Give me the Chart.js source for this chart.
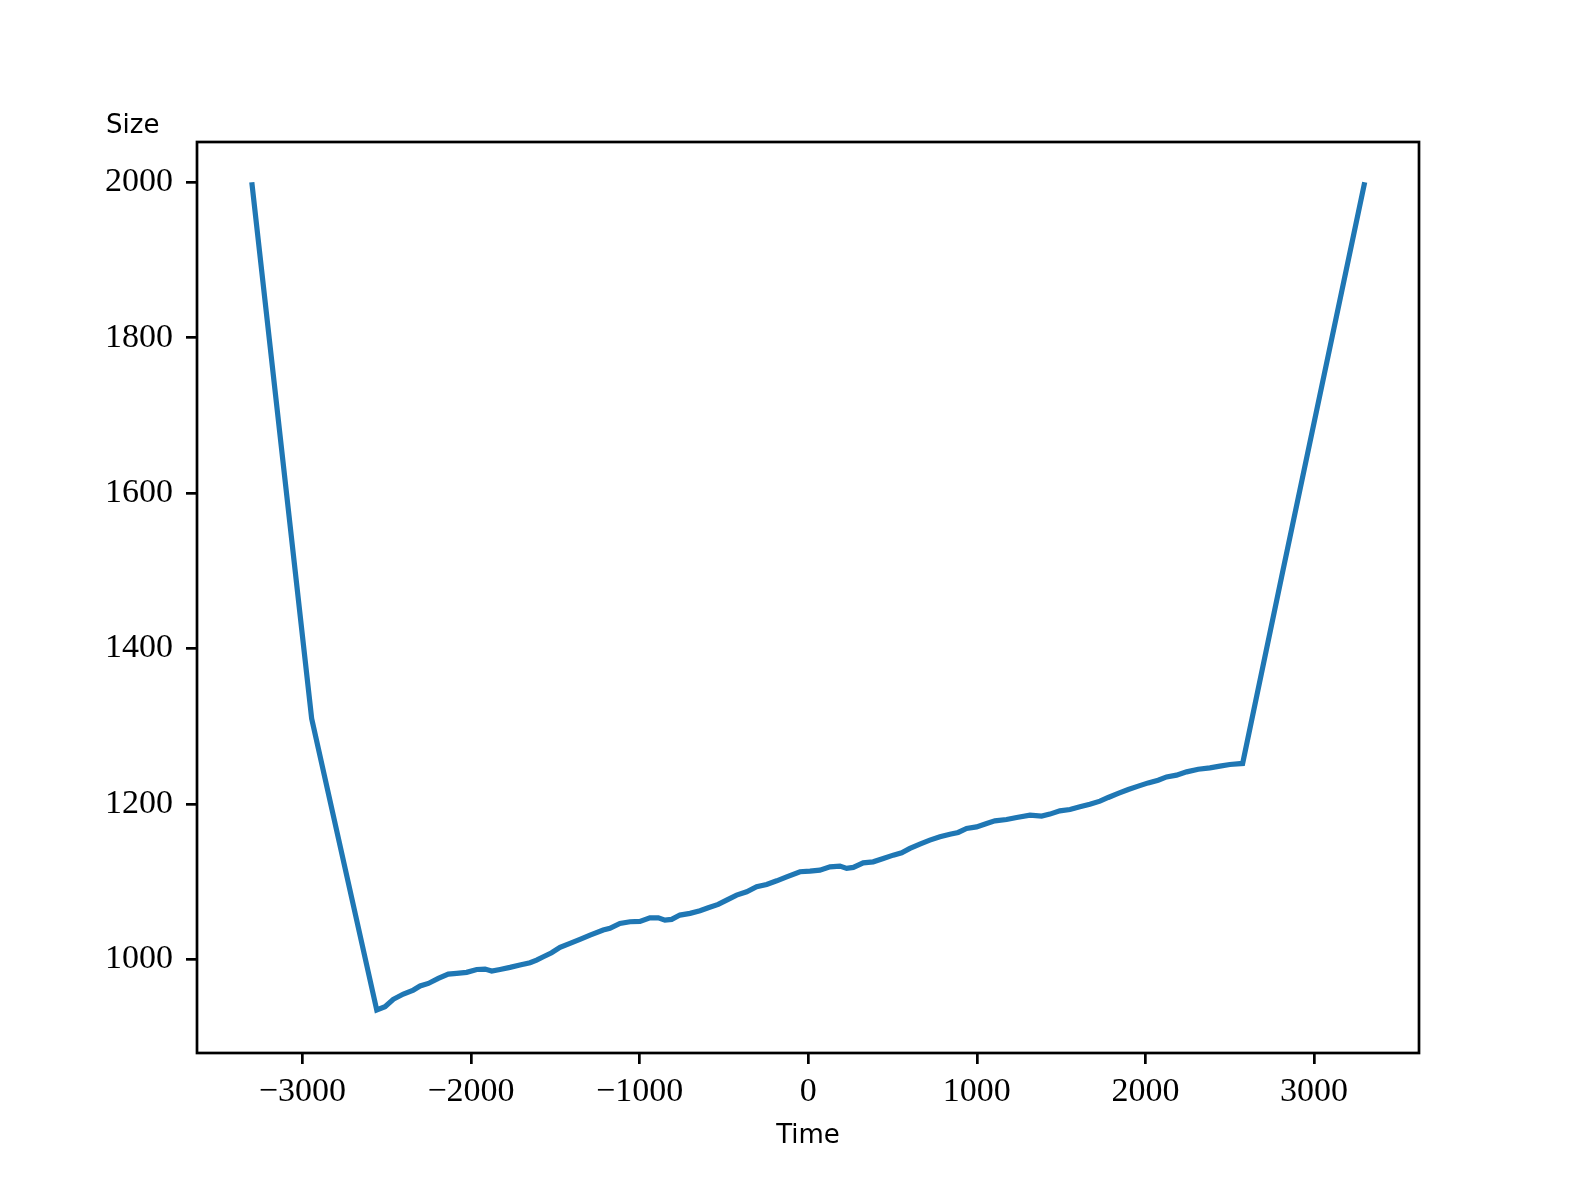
<!DOCTYPE html>
<html>
<head>
<meta charset="utf-8">
<script src="https://cdn.jsdelivr.net/npm/chart.js@4/dist/chart.umd.min.js"></script>
<style>
  html, body { margin: 0; padding: 0; background: #fff; }
  #wrap { width: 1577px; height: 1183px; }
</style>
</head>
<body>
<div id="wrap"><canvas id="sizeChart" width="1577" height="1183"></canvas></div>
<script>
// values
const timeValues = [
    -3300, -2945, -2559, -2510, -2461, -2401, -2342, -2302, -2253, -2194, -2135, -2085,
    -2026, -1966, -1917, -1877, -1828, -1769, -1710, -1650, -1611, -1571, -1522, -1472,
    -1413, -1354, -1294, -1216, -1176, -1117, -1057, -998, -939, -889, -850, -810,
    -761, -701, -642, -593, -534, -484, -425, -365, -306, -247, -187, -128,
    -49, 10, 69, 129, 188, 228, 267, 326, 385, 445, 504, 554,
    603, 662, 721, 781, 840, 889, 939, 998, 1058, 1107, 1176, 1236,
    1315, 1384, 1433, 1492, 1552, 1611, 1670, 1730, 1779, 1838, 1898, 1957,
    2016, 2075, 2125, 2184, 2244, 2313, 2382, 2441, 2500, 2576, 2807, 3300
];
const sizeValues = [
    2000, 1310, 934.8, 939, 948.6, 955.4, 960.5, 965.7, 969, 975.6, 981, 982,
    983.3, 987, 987.5, 985, 987, 989.7, 992.7, 995.6, 999, 1003.3, 1008.5, 1015.4,
    1020.6, 1025.7, 1031.2, 1037.7, 1039.9, 1046.3, 1048.4, 1048.9, 1053.5, 1053.5, 1050.5, 1051.4,
    1057, 1059.2, 1062.5, 1066.4, 1070.7, 1076.3, 1082.7, 1087, 1093.4, 1096.4, 1101.1, 1106.2,
    1112.7, 1113.6, 1114.8, 1119, 1120, 1117, 1118.3, 1124.2, 1125.5, 1129.9, 1134.1, 1137.1,
    1142.7, 1148.3, 1153.4, 1157.7, 1161.1, 1163.3, 1168.5, 1170.5, 1174.9, 1178.2, 1180, 1182.6,
    1185.6, 1184.3, 1186.9, 1191.1, 1192.9, 1196.3, 1199.7, 1203.6, 1208.3, 1213.5, 1218.6, 1222.9,
    1227.1, 1230.6, 1234.8, 1237, 1241.3, 1244.7, 1246.4, 1248.6, 1250.8, 1252.1, 1492, 2000
];
const xTicks = [-3000, -2000, -1000, 0, 1000, 2000, 3000];
const yTicks = [1000, 1200, 1400, 1600, 1800, 2000];

const points = timeValues.map((t, i) => ({ x: t, y: sizeValues[i] }));

const tickFont = { family: '"Liberation Serif", "Times New Roman", serif', size: 34 };
const labelFont = '26px "DejaVu Sans", sans-serif';

// frame round the plot area plus the two axis labels
const framePlugin = {
    id: 'frame',
    afterDraw(chart) {
        const { ctx, chartArea: a } = chart;
        ctx.save();
        ctx.strokeStyle = '#000';
        ctx.lineWidth = 2.7;
        ctx.strokeRect(a.left, a.top, a.right - a.left, a.bottom - a.top);

        ctx.fillStyle = '#000';
        ctx.font = labelFont;
        ctx.textBaseline = 'alphabetic';
        ctx.textAlign = 'left';
        ctx.fillText('Size', 106, 133);
        ctx.textAlign = 'center';
        ctx.fillText('Time', (a.left + a.right) / 2, 1143);
        ctx.restore();
    }
};

new Chart(document.getElementById('sizeChart'), {
    type: 'line',
    data: {
        datasets: [{
            data: points,
            borderColor: '#1f77b4',
            borderWidth: 5.2,
            pointRadius: 0,
            tension: 0,
            fill: false
        }]
    },
    options: {
        responsive: false,
        animation: false,
        layout: { padding: { top: 142, right: 158, left: 0, bottom: 0 } },
        plugins: {
            legend: { display: false },
            tooltip: { enabled: false }
        },
        scales: {
            x: {
                type: 'linear',
                min: -3625,
                max: 3622,
                afterBuildTicks: (scale) => { scale.ticks = xTicks.map(v => ({ value: v })); },
                afterFit: (scale) => { scale.height = 130; },
                grid: { drawOnChartArea: false, drawTicks: true, tickLength: 11, color: '#000', lineWidth: 2.7 },
                border: { display: false },
                ticks: {
                    color: '#000',
                    font: tickFont,
                    padding: 8,
                    maxRotation: 0,
                    autoSkip: false,
                    callback: (v) => (v < 0 ? '\u2212' : '') + Math.abs(v)
                }
            },
            y: {
                type: 'linear',
                min: 879.5,
                max: 2051.8,
                afterBuildTicks: (scale) => { scale.ticks = yTicks.map(v => ({ value: v })); },
                afterFit: (scale) => { scale.width = 197; },
                grid: { drawOnChartArea: false, drawTicks: true, tickLength: 11, color: '#000', lineWidth: 2.7 },
                border: { display: false },
                ticks: {
                    color: '#000',
                    font: tickFont,
                    padding: 13,
                    autoSkip: false,
                    callback: (v) => String(v)
                }
            }
        }
    },
    plugins: [framePlugin]
});
</script>
</body>
</html>
